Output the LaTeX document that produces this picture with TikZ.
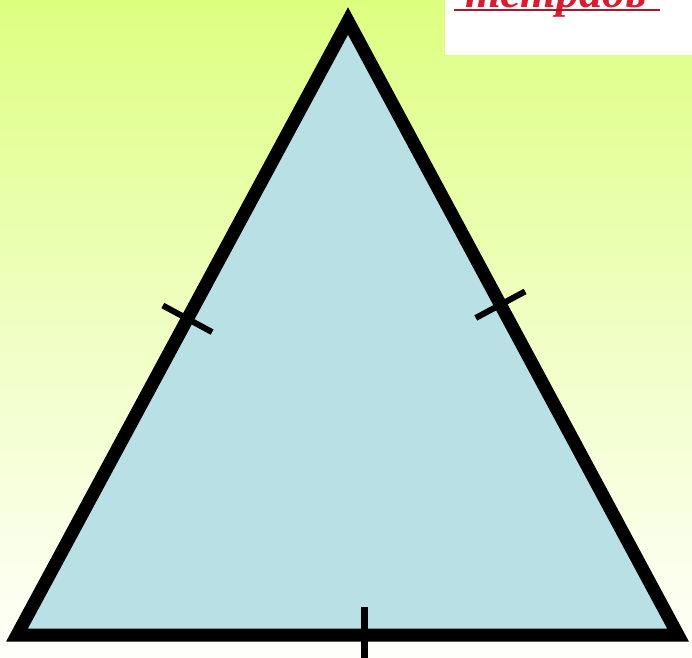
\documentclass[tikz,border=0pt]{standalone}
\usepackage{fontspec}
\setmainfont{Liberation Serif}
\usetikzlibrary{calc}
\definecolor{BGtop}{RGB}{221,255,128}
\definecolor{BGbot}{RGB}{255,255,250}
\definecolor{TRI}{RGB}{185,224,228}
\definecolor{CR}{RGB}{214,30,50}

\begin{document}
\begin{tikzpicture}[x=1pt, y=-1pt,
  side/.style={draw=black, line width=13pt, line join=miter, fill=TRI},
  tickmark/.style={draw=black, line width=6pt},
  title/.style={font=\fontsize{46}{46}\selectfont\bfseries\itshape, text=CR, anchor=base, inner sep=0pt}
]
\useasboundingbox (0,0) rectangle (692,657);
\clip (0,0) rectangle (692,657);
% background
\shade[top color=BGtop, bottom color=BGbot, middle color=BGtop!45!BGbot] (0,0) rectangle (692,657);
\fill[white] (445,0) rectangle (692,55);
\node[title] (ttl) at (556,7) {тетрадь};
\draw[CR!80!black, line width=2pt] (454,10) -- (660,10);

% triangle
\coordinate (A) at (17,635);
\coordinate (B) at (348,21);
\coordinate (C) at (678,635);
\draw[side] (A) -- (B) -- (C) -- cycle;

% equal-side ticks
\coordinate (mAB) at ($(A)!0.515!(B)$);
\coordinate (mBC) at ($(C)!0.538!(B)$);
\coordinate (mCA) at ($(A)!0.526!(C)$);
\draw[tickmark] ($(mAB)!28pt!90:(B)$) -- ($(mAB)!28pt!-90:(B)$);
\draw[tickmark] ($(mBC)!28pt!90:(B)$) -- ($(mBC)!28pt!-90:(B)$);
\draw[tickmark, line width=7pt] ($(mCA)+(0,-28)$) -- ($(mCA)+(0,24)$);
\end{tikzpicture}
\end{document}
